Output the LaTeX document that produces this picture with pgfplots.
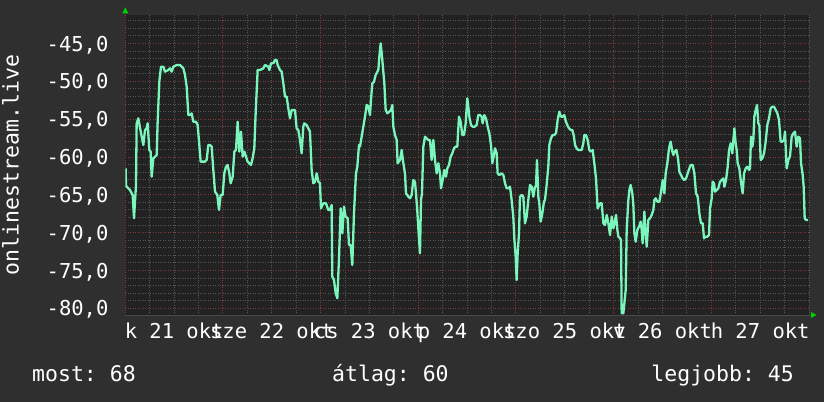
\documentclass[border=0pt]{standalone}
\usepackage{pgfplots}
\pgfplotsset{compat=1.18}
\usepackage{pgfplotstable}
\usepackage{fontspec}
\newfontfamily\rrd{DejaVu Sans Mono}
\definecolor{outerbg}{HTML}{2F2F2F}
\definecolor{plotbg}{HTML}{222222}
\definecolor{minorgrid}{HTML}{565656}
\definecolor{majorgrid}{HTML}{843A3A}
\definecolor{linec}{HTML}{7AF5BC}
\definecolor{arrowg}{HTML}{00D000}
\definecolor{axisgray}{HTML}{4A4A4A}
\newcommand\rrdfont{\rrd\frenchspacing\fontsize{20.5}{24}\selectfont}
\newcommand\rrdbig{\rrd\frenchspacing\fontsize{21.5}{25}\selectfont}

\pgfplotstableread{
h v
0.09 -61.50
0.17 -63.70
0.34 -63.92
1.15 -64.36
1.81 -65.02
2.14 -68.10
2.63 -63.70
2.79 -55.55
3.20 -54.89
4.02 -57.31
4.43 -58.41
4.84 -56.43
5.25 -56.21
5.49 -55.55
5.90 -59.07
6.23 -59.29
6.48 -62.60
6.89 -60.17
7.30 -59.95
7.71 -59.73
7.95 -55.33
8.36 -50.04
8.77 -48.06
9.34 -48.06
9.75 -48.72
10.57 -48.50
10.98 -48.28
11.39 -48.72
11.80 -48.06
12.62 -47.84
13.03 -47.84
13.44 -47.84
13.85 -48.06
14.26 -48.28
14.67 -49.16
15.08 -50.70
15.49 -54.45
15.90 -54.45
16.31 -54.23
16.72 -55.33
17.37 -55.33
17.78 -55.77
18.19 -58.41
18.52 -60.61
19.58 -60.61
19.99 -60.39
20.40 -58.41
20.81 -58.41
21.22 -58.63
21.63 -61.72
22.04 -64.58
22.61 -65.02
23.02 -67.00
23.43 -65.02
23.92 -65.02
24.33 -62.16
24.74 -61.28
25.15 -61.05
25.56 -62.16
25.89 -63.48
26.38 -62.60
26.79 -59.29
27.20 -59.07
27.61 -55.33
28.02 -59.29
28.43 -56.65
28.84 -59.95
29.25 -59.29
29.66 -59.95
30.06 -60.61
30.47 -60.83
30.88 -61.05
31.29 -60.17
31.70 -58.85
32.03 -54.23
32.52 -48.50
33.10 -48.50
33.91 -48.28
34.32 -47.84
35.14 -48.06
35.39 -48.50
35.80 -47.62
36.37 -47.62
36.78 -47.18
37.19 -47.18
37.44 -47.84
38.01 -48.50
38.42 -48.72
38.83 -50.26
39.24 -52.02
39.65 -52.02
40.06 -53.57
40.47 -54.89
40.88 -53.79
41.70 -53.79
42.10 -56.21
42.51 -56.43
42.92 -57.75
43.33 -59.51
43.74 -55.99
43.99 -55.55
44.56 -55.77
44.97 -56.21
45.38 -56.65
45.79 -61.72
46.20 -63.48
46.61 -63.26
47.02 -62.16
47.43 -63.26
47.84 -63.48
48.08 -66.78
48.66 -66.12
49.31 -66.12
49.88 -67.00
50.29 -67.00
50.70 -66.34
50.87 -75.81
51.28 -76.25
51.69 -78.01
52.10 -78.67
52.51 -73.39
52.92 -66.78
53.33 -70.09
53.74 -66.56
54.14 -67.88
54.64 -68.10
54.96 -71.63
55.37 -71.63
55.78 -74.27
56.19 -67.44
56.68 -62.16
57.01 -61.28
57.42 -58.41
57.67 -58.63
58.08 -57.31
58.49 -55.99
58.90 -54.67
59.31 -53.13
59.72 -53.35
60.13 -54.45
60.37 -52.47
60.70 -50.26
61.11 -50.04
61.52 -49.16
61.93 -48.72
62.17 -48.50
62.42 -46.74
62.75 -44.98
63.08 -46.74
63.40 -48.72
63.65 -50.26
63.98 -53.79
64.39 -54.23
64.88 -54.01
65.29 -53.79
65.61 -53.13
65.86 -55.99
66.27 -57.09
66.68 -57.75
66.92 -60.83
67.50 -60.39
67.91 -59.07
68.32 -60.83
68.73 -62.16
68.97 -64.80
69.55 -65.24
69.96 -65.46
70.36 -65.02
70.77 -63.04
71.18 -63.26
71.43 -64.80
71.76 -67.22
72.08 -70.09
72.41 -72.73
72.66 -65.68
72.90 -64.80
73.23 -58.63
73.64 -57.31
74.05 -57.53
74.46 -57.75
74.87 -57.75
75.28 -60.39
75.69 -57.75
76.10 -60.39
76.51 -62.16
76.92 -60.83
77.33 -62.16
77.57 -64.14
77.98 -63.04
78.39 -61.72
78.80 -62.60
79.13 -61.50
79.54 -61.05
79.95 -59.95
80.36 -59.51
80.77 -58.85
81.18 -58.63
81.58 -58.63
81.99 -54.67
82.40 -55.33
82.81 -57.09
83.22 -57.09
83.63 -55.55
84.04 -52.24
84.29 -53.35
84.53 -54.67
84.94 -55.77
85.35 -55.99
85.84 -55.99
86.34 -55.77
86.74 -54.45
87.15 -54.45
87.56 -54.67
87.81 -55.55
88.22 -54.45
88.63 -54.89
89.04 -55.99
89.45 -56.87
89.86 -58.41
90.18 -60.83
90.43 -60.17
90.84 -58.85
91.25 -59.51
91.49 -62.16
91.90 -62.38
92.48 -62.16
92.89 -62.38
93.30 -63.48
93.71 -64.14
94.12 -64.14
94.53 -63.92
94.93 -65.68
95.34 -67.88
95.59 -70.75
95.92 -73.17
96.16 -76.25
96.41 -72.73
96.74 -70.09
96.98 -65.24
97.39 -65.02
97.80 -65.24
98.21 -68.76
98.62 -67.88
99.03 -65.68
99.44 -63.70
99.85 -63.92
100.26 -65.24
100.67 -63.92
100.91 -63.92
101.16 -60.39
101.49 -65.24
101.73 -66.12
102.06 -68.54
102.47 -67.44
102.88 -65.90
103.12 -65.68
103.53 -63.70
103.94 -61.28
104.19 -58.41
104.60 -57.53
105.01 -57.09
105.42 -57.09
105.83 -56.87
106.24 -55.11
106.65 -54.01
107.06 -54.67
107.47 -54.67
107.87 -54.45
108.28 -55.33
108.61 -55.77
109.02 -56.21
109.43 -56.43
109.84 -56.43
110.25 -57.31
110.50 -58.41
110.91 -58.85
111.31 -59.07
111.72 -59.07
112.13 -59.07
112.54 -58.19
112.79 -57.09
113.20 -57.09
113.61 -57.75
114.02 -59.07
114.43 -59.29
114.84 -59.07
115.25 -60.83
115.66 -62.82
116.06 -66.78
116.65 -66.12
117.06 -66.12
117.47 -68.76
117.88 -68.98
118.29 -67.66
118.70 -68.76
119.11 -70.31
119.52 -67.88
119.93 -69.42
120.34 -68.32
120.58 -67.66
120.91 -69.64
121.15 -70.53
121.56 -70.75
121.81 -70.97
121.97 -80.66
122.38 -80.66
122.63 -79.34
122.96 -77.57
123.20 -69.64
123.61 -65.68
123.86 -64.36
124.18 -63.70
124.59 -64.80
124.84 -66.34
125.09 -70.09
125.41 -71.19
125.82 -69.64
126.23 -69.20
126.64 -68.54
126.89 -69.64
127.13 -71.41
127.54 -67.22
127.87 -70.09
128.12 -71.85
128.53 -68.32
128.94 -68.10
129.34 -67.66
129.75 -67.00
130.00 -65.68
130.33 -65.46
130.74 -65.90
131.23 -65.90
131.64 -64.58
132.05 -63.04
132.46 -64.80
132.78 -62.16
133.19 -60.83
133.60 -58.85
134.01 -57.97
134.42 -59.29
134.67 -59.73
134.98 -59.29
135.41 -59.07
135.81 -60.17
136.14 -61.94
136.55 -62.38
136.96 -62.82
137.37 -63.04
137.78 -62.82
138.19 -62.16
138.60 -61.50
138.93 -61.05
139.42 -61.05
139.83 -62.16
140.24 -64.80
140.65 -65.24
141.06 -67.44
141.47 -68.76
141.88 -68.76
142.20 -70.75
142.61 -70.53
143.02 -70.53
143.43 -70.31
143.68 -66.78
144.09 -65.46
144.33 -63.26
144.66 -63.48
144.91 -64.58
145.32 -64.36
145.72 -64.14
146.13 -63.26
146.54 -63.04
146.95 -62.82
147.20 -63.92
147.61 -63.04
148.02 -61.28
148.35 -59.07
148.75 -58.19
149.16 -59.51
149.41 -57.75
149.66 -56.21
149.98 -58.19
150.23 -59.07
150.47 -60.83
150.88 -61.50
151.21 -63.04
151.70 -64.80
152.03 -62.16
152.44 -61.50
152.85 -61.28
153.26 -61.72
153.51 -61.50
153.75 -57.31
154.08 -58.63
154.32 -57.75
154.57 -54.67
154.90 -53.79
155.23 -53.13
155.55 -55.55
155.80 -55.77
156.13 -60.39
156.54 -60.17
156.95 -59.51
157.35 -57.97
157.76 -55.77
158.17 -54.89
158.58 -53.57
158.99 -53.35
159.40 -53.35
159.81 -53.79
160.22 -54.23
160.63 -55.11
161.04 -57.97
161.45 -57.97
161.86 -57.75
162.10 -56.65
162.51 -61.50
162.92 -60.39
163.33 -59.95
163.74 -57.31
164.15 -56.87
164.56 -56.65
164.97 -58.63
165.38 -57.31
165.79 -57.53
166.04 -60.83
166.45 -62.38
166.69 -63.92
166.94 -68.10
167.26 -68.32
167.76 -68.32
}\signal

\begin{document}
\begin{tikzpicture}[x=1pt,y=1pt]
\fill[outerbg] (0,0) rectangle (824,402);
\begin{axis}[
  at={(125.3pt,86.1pt)}, anchor=south west, scale only axis,
  width=683.7pt, height=300.9pt,
  xmin=0, xmax=168, ymin=-81, ymax=-41.23,
  axis background/.style={fill=plotbg},
  axis line style={draw=none},
  major tick length=0pt, minor tick length=0pt,
  xtick={12,36,...,156},
  xticklabels={k 21 okt, sze 22 okt, cs 23 okt, p 24 okt, szo 25 okt, v 26 okt, h 27 okt},
  minor xtick={0,6,...,168},
  extra x ticks={0,24,...,144},
  extra x tick labels={},
  extra x tick style={grid=major},
  ytick={-80,-75,...,-45},
  yticklabels={{-80,0},{-75,0},{-70,0},{-65,0},{-60,0},{-55,0},{-50,0},{-45,0}},
  minor ytick={-81,-80,...,-42},
  xminorgrids=true, yminorgrids=true, ymajorgrids=true, xmajorgrids=false,
  minor grid style={minorgrid, line width=1pt, dash pattern=on 1pt off 1.5pt},
  major grid style={majorgrid, line width=1pt, dash pattern=on 1pt off 1.5pt},
  xticklabel style={font=\rrdfont, text=white, anchor=north, inner sep=0pt, text height=15pt, text depth=0pt, yshift=-7.3pt},
  yticklabel style={font=\rrdfont, text=white, anchor=east, inner sep=0pt, text height=15pt, text depth=0pt, xshift=-16.7pt},
]
\addplot[linec, line width=2.3pt, line join=round] table[x=h, y=v] {\signal};
\end{axis}
\draw[axisgray, line width=1pt] (125.3,86.1) -- (811,86.1);
\fill[arrowg] (122.3,388.7) -- (128.3,388.7) -- (125.3,394.7) -- cycle;
\fill[arrowg] (811,84) -- (811,90) -- (816.5,87) -- cycle;
\node[rotate=90, anchor=base, font=\rrdbig, text=white, inner sep=0pt] at (18.5,237) {onlinestream.live};
\node[anchor=base west, font=\rrdbig, text=white, inner sep=0pt] at (32,21) {most: 68};
\node[anchor=base west, font=\rrdbig, text=white, inner sep=0pt] at (332,21) {átlag: 60};
\node[anchor=base east, font=\rrdbig, text=white, inner sep=0pt] at (794,21) {legjobb: 45};
\pgfresetboundingbox
\useasboundingbox (0,0) rectangle (824,402);
\end{tikzpicture}
\end{document}
